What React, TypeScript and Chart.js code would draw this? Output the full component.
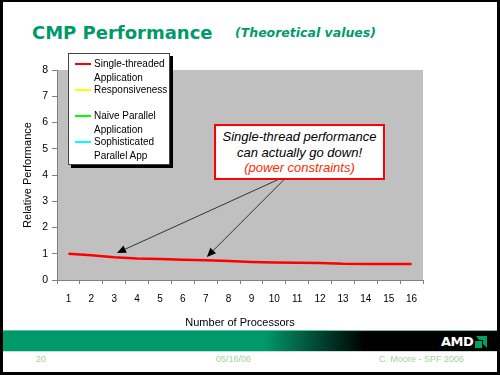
import React, { useEffect, useRef } from "react";
import { Chart, registerables } from "chart.js";

Chart.register(...registerables);

const processors = ["1", "2", "3", "4", "5", "6", "7", "8", "9", "10", "11", "12", "13", "14", "15", "16"];
const singleThreaded = [1.0, 0.94, 0.87, 0.82, 0.8, 0.77, 0.75, 0.72, 0.69, 0.67, 0.66, 0.65, 0.62, 0.61, 0.61, 0.61];
const responsiveness: (number | null)[] = [];
const naiveParallel: (number | null)[] = [];
const sophisticatedParallel: (number | null)[] = [];

const legendLines = [
  ["Single-threaded", "Application"],
  ["Responsiveness", ""],
  ["Naive Parallel", "Application"],
  ["Sophisticated", "Parallel App"],
];
const seriesColors = ["#ff0000", "#ffff00", "#00ff00", "#00ffff"];
const yTicks = [0, 1, 2, 3, 4, 5, 6, 7, 8];

// arrows: [fromIndex, fromValue, toIndex, toValue] in data space
const arrowFrom = [
  [9.33, 3.89],
  [9.5, 3.89],
];
const arrowTo = [
  [2.12, 1.03],
  [6.05, 0.88],
];

const GREEN = "#009a6a";
const SANS = "'Liberation Sans', Arial, sans-serif";

const plotBg = {
  id: "plotBg",
  beforeDraw(chart: any) {
    const { ctx, chartArea } = chart;
    ctx.save();
    ctx.fillStyle = "#c0c0c0";
    ctx.fillRect(chartArea.left, chartArea.top, chartArea.right - chartArea.left, chartArea.bottom - chartArea.top);
    ctx.restore();
  },
};

const arrows = {
  id: "arrows",
  afterDatasetsDraw(chart: any) {
    const { ctx } = chart;
    const xs = chart.scales.x;
    const ys = chart.scales.y;
    ctx.save();
    for (let i = 0; i < arrowFrom.length; i++) {
      const x1 = xs.getPixelForValue(arrowFrom[i][0]);
      const y1 = ys.getPixelForValue(arrowFrom[i][1]);
      const x2 = xs.getPixelForValue(arrowTo[i][0]);
      const y2 = ys.getPixelForValue(arrowTo[i][1]);
      const ang = Math.atan2(y2 - y1, x2 - x1);
      const len = 9;
      const w = 4;
      const bx = x2 - len * Math.cos(ang);
      const by = y2 - len * Math.sin(ang);
      ctx.strokeStyle = "#333333";
      ctx.lineWidth = 1;
      ctx.beginPath();
      ctx.moveTo(x1, y1);
      ctx.lineTo(bx, by);
      ctx.stroke();
      ctx.fillStyle = "#000000";
      ctx.beginPath();
      ctx.moveTo(x2, y2);
      ctx.lineTo(bx + w * Math.sin(ang), by - w * Math.cos(ang));
      ctx.lineTo(bx - w * Math.sin(ang), by + w * Math.cos(ang));
      ctx.closePath();
      ctx.fill();
    }
    ctx.restore();
  },
};

function ChartCanvas() {
  const ref = useRef<HTMLCanvasElement | null>(null);
  useEffect(() => {
    if (!ref.current) return;
    const chart = new Chart(ref.current, {
      type: "line",
      data: {
        labels: processors,
        datasets: [
          { label: "Single-threaded Application", data: singleThreaded, borderColor: seriesColors[0], borderWidth: 2.5, pointRadius: 0, tension: 0 },
          { label: "Responsiveness", data: responsiveness, borderColor: seriesColors[1], borderWidth: 2.5, pointRadius: 0 },
          { label: "Naive Parallel Application", data: naiveParallel, borderColor: seriesColors[2], borderWidth: 2.5, pointRadius: 0 },
          { label: "Sophisticated Parallel App", data: sophisticatedParallel, borderColor: seriesColors[3], borderWidth: 2.5, pointRadius: 0 },
        ],
      },
      options: {
        responsive: false,
        animation: false,
        devicePixelRatio: 1,
        layout: { padding: { left: 0, top: 70, right: 77, bottom: 0 } },
        plugins: { legend: { display: false }, tooltip: { enabled: false } },
        scales: {
          x: {
            type: "category",
            offset: true,
            grid: { offset: true, drawOnChartArea: false, drawTicks: true, tickLength: 4, color: "#808080" },
            border: { color: "#808080" },
            ticks: { color: "#000", font: { family: SANS, size: 10 }, padding: 9, maxRotation: 0, autoSkip: false },
            title: { display: true, text: "Number of Processors", color: "#000", font: { family: SANS, size: 11 }, padding: { top: 0, bottom: 45 } },
            afterFit(scale: any) {
              scale.height = 95;
            },
          },
          y: {
            min: 0,
            max: 8,
            afterBuildTicks(scale: any) {
              scale.ticks = yTicks.map((v) => ({ value: v }));
            },
            grid: { drawOnChartArea: false, drawTicks: true, tickLength: 5, color: "#808080" },
            border: { color: "#808080" },
            ticks: { color: "#000", font: { family: SANS, size: 10.5 }, padding: 4 },
            title: { display: true, text: "Relative Performance", color: "#000", font: { family: SANS, size: 11 }, padding: { top: 21, bottom: 0 } },
            afterFit(scale: any) {
              scale.width = 57;
            },
          },
        },
      },
      plugins: [plotBg, arrows],
    } as any);
    return () => chart.destroy();
  }, []);
  return <canvas ref={ref} width={500} height={375} style={{ position: "absolute", left: 0, top: 0, width: 500, height: 375 }} />;
}

export default function App() {
  return (
    <div style={{ position: "fixed", left: 0, top: 0, width: 500, height: 375, background: "#fff", overflow: "hidden", fontFamily: SANS }}>
      <div style={{ position: "absolute", left: 32, top: 22, color: GREEN, fontFamily: "'DejaVu Sans', Verdana, sans-serif", fontWeight: "bold", fontSize: 18, whiteSpace: "nowrap" }}>
        CMP Performance
      </div>
      <div style={{ position: "absolute", left: 235, top: 25, color: GREEN, fontFamily: "'DejaVu Sans', Verdana, sans-serif", fontWeight: "bold", fontStyle: "italic", fontSize: 12.5, whiteSpace: "nowrap" }}>
        (Theoretical values)
      </div>
      <ChartCanvas />
      {/* legend */}
      <div style={{ position: "absolute", left: 68, top: 53, width: 100, height: 110, background: "#fff", border: "1px solid #444", boxShadow: "3px 3px 0 #000" }}>
        {legendLines.map((lines, i) => (
          <div key={i} style={{ position: "absolute", left: 0, top: 3 + i * 26, width: 100 }}>
            <div style={{ position: "absolute", left: 6, top: 6, width: 16, height: 2, background: seriesColors[i] }} />
            <div style={{ position: "absolute", left: 25, top: 0, fontSize: 10, lineHeight: "13.5px", color: "#000", whiteSpace: "nowrap" }}>
              {lines[0]}
              <br />
              {lines[1]}
            </div>
          </div>
        ))}
      </div>
      {/* annotation */}
      <div style={{ position: "absolute", left: 214, top: 124, width: 167, height: 49, background: "#fff", border: "2px solid #ff0000", textAlign: "center", fontStyle: "italic", fontSize: 13, lineHeight: "15.5px", paddingTop: 3 }}>
        <div style={{ color: "#000" }}>Single-thread performance</div>
        <div style={{ color: "#000" }}>can actually go down!</div>
        <div style={{ color: "#ff2a00" }}>(power constraints)</div>
      </div>
      {/* footer band */}
      <div style={{ position: "absolute", left: 0, top: 330, width: 500, height: 22, background: `linear-gradient(to right, ${GREEN} 0px, ${GREEN} 263px, #000 365px, #000 500px)`, borderTop: "1px solid #5fc39c", borderBottom: "1px solid #bfe3d3", boxSizing: "border-box" }} />
      <div style={{ position: "absolute", left: 441, top: 334, color: "#fff", fontWeight: "bold", fontSize: 13, fontFamily: "'DejaVu Sans', Verdana, sans-serif", letterSpacing: -0.5 }}>AMD</div>
      <svg style={{ position: "absolute", left: 473, top: 336 }} width={14} height={12} viewBox="0 0 14 12">
        <polygon points="3,0 14,0 14,12 10,8 10,4 6,4" fill="#00a060" />
        <polygon points="2,5 9,5 9,12 2,12" fill="#00a060" />
      </svg>
      <div style={{ position: "absolute", left: 36, top: 354, color: "#9fd29f", fontSize: 9 }}>20</div>
      <div style={{ position: "absolute", left: 216, top: 354, color: "#9fd29f", fontSize: 9 }}>05/16/06</div>
      <div style={{ position: "absolute", left: 379, top: 354, color: "#9fd29f", fontSize: 9 }}>C. Moore - SPF 2006</div>
      {/* slide border */}
      <div style={{ position: "absolute", left: 0, top: 0, width: 500, height: 375, boxSizing: "border-box", borderTop: "2px solid #000", borderLeft: "3px solid #000", borderRight: "3px solid #000", borderBottom: "3px solid #000", pointerEvents: "none" }} />
    </div>
  );
}
